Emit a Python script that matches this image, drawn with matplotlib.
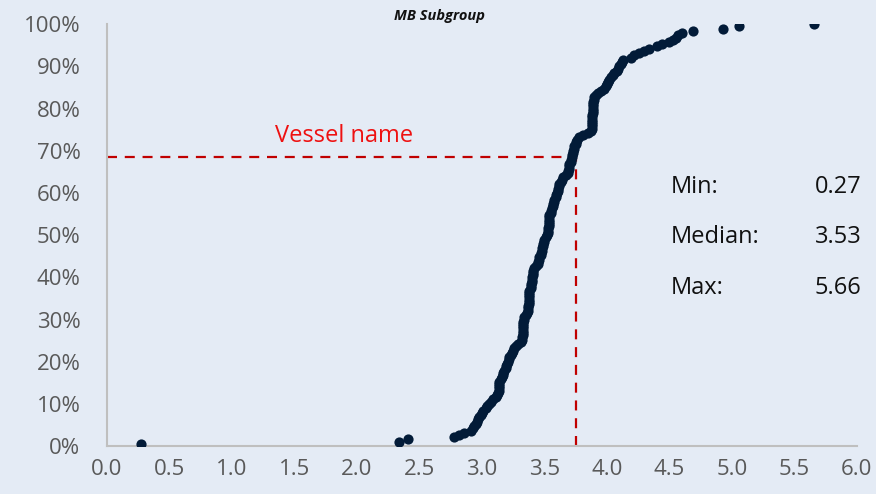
"""Cumulative distribution of vessel values for the MB subgroup."""

import matplotlib as mpl
import matplotlib.pyplot as plt
import numpy as np
from matplotlib.ticker import PercentFormatter

mpl.rcParams["font.family"] = ["Open Sans", "DejaVu Sans"]

# %% data (sorted vessel values)
values = [
    0.27, 2.34, 2.41, 2.78, 2.82, 2.86, 2.91, 2.93, 2.94, 2.95,
    2.96, 2.97, 2.98, 2.99, 3.00, 3.01, 3.03, 3.04, 3.06, 3.07,
    3.09, 3.11, 3.12, 3.13, 3.14, 3.14, 3.14, 3.14, 3.14, 3.15,
    3.16, 3.17, 3.17, 3.18, 3.19, 3.19, 3.20, 3.21, 3.22, 3.22,
    3.23, 3.24, 3.25, 3.26, 3.27, 3.29, 3.31, 3.32, 3.32, 3.33,
    3.33, 3.33, 3.33, 3.33, 3.33, 3.33, 3.34, 3.34, 3.35, 3.36,
    3.37, 3.37, 3.37, 3.38, 3.38, 3.38, 3.38, 3.38, 3.38, 3.38,
    3.39, 3.39, 3.39, 3.40, 3.40, 3.40, 3.41, 3.41, 3.41, 3.42,
    3.43, 3.45, 3.45, 3.46, 3.46, 3.47, 3.47, 3.48, 3.48, 3.49,
    3.49, 3.50, 3.50, 3.51, 3.52, 3.53, 3.53, 3.53, 3.54, 3.54,
    3.54, 3.54, 3.54, 3.54, 3.55, 3.55, 3.56, 3.57, 3.57, 3.58,
    3.58, 3.59, 3.59, 3.60, 3.61, 3.61, 3.62, 3.62, 3.63, 3.64,
    3.65, 3.67, 3.69, 3.69, 3.70, 3.70, 3.70, 3.71, 3.71, 3.72,
    3.72, 3.73, 3.73, 3.74, 3.74, 3.75, 3.75, 3.76, 3.78, 3.81,
    3.85, 3.87, 3.88, 3.88, 3.88, 3.88, 3.88, 3.88, 3.88, 3.89,
    3.89, 3.89, 3.89, 3.89, 3.89, 3.90, 3.90, 3.91, 3.93, 3.95,
    3.98, 3.99, 4.00, 4.01, 4.02, 4.03, 4.05, 4.06, 4.08, 4.09,
    4.10, 4.11, 4.12, 4.13, 4.19, 4.22, 4.26, 4.30, 4.34, 4.40,
    4.44, 4.50, 4.53, 4.55, 4.57, 4.60, 4.69, 4.93, 5.06, 5.66,
]
cum_share = np.arange(1, len(values) + 1) / len(values)

vessel_x = 3.75
vessel_y = 0.685
vessel_label = "Vessel name"

stat_names = ["Min:", "Median:", "Max:"]
stat_values = ["0.27", "3.53", "5.66"]

x_ticks = np.arange(0, 6.01, 0.5)
y_ticks = np.arange(0, 1.01, 0.1)

# %% plot
bg = "#e4ebf5"
fig = plt.figure(figsize=(8.76, 4.94), dpi=100, facecolor=bg)
ax = fig.add_axes([0.122, 0.097, 0.856, 0.854], facecolor=bg)

ax.plot([0, vessel_x], [vessel_y, vessel_y], ls=(0, (4.5, 3.5)), color="#c00000", lw=1.6, zorder=2)
ax.plot([vessel_x, vessel_x], [0, vessel_y], ls=(0, (4.5, 3.5)), color="#c00000", lw=1.6, zorder=2)
ax.scatter(values, cum_share, s=54, color="#021b38", zorder=3, linewidths=0)

ax.text(1.9, 0.735, vessel_label, color="#ee1111", fontsize=17, ha="center", va="center")

for i, (name, val) in enumerate(zip(stat_names, stat_values)):
    yy = 0.615 - i * 0.12
    ax.text(4.51, yy, name, fontsize=17, color="#111111", ha="left", va="center")
    ax.text(6.04, yy, val, fontsize=17, color="#111111", ha="right", va="center")

ax.set_xlim(0, 6)
ax.set_ylim(0, 1)
ax.set_xticks(x_ticks)
ax.set_yticks(y_ticks)
ax.xaxis.set_major_formatter(mpl.ticker.FormatStrFormatter("%.1f"))
ax.yaxis.set_major_formatter(PercentFormatter(1.0, decimals=0))
ax.tick_params(axis="both", length=0, labelsize=16, labelcolor="#595959")
ax.tick_params(axis="y", pad=19)
ax.tick_params(axis="x", pad=9)

for side in ["top", "right"]:
    ax.spines[side].set_visible(False)
for side in ["left", "bottom"]:
    ax.spines[side].set_color("#bfbfbf")
    ax.spines[side].set_linewidth(1.5)

fig.text(0.502, 0.967, "MB Subgroup", fontsize=10.5, fontweight="bold", fontstyle="italic",
         ha="center", va="center", color="#111111")

fig.savefig("out.png", dpi=100, facecolor=bg)
